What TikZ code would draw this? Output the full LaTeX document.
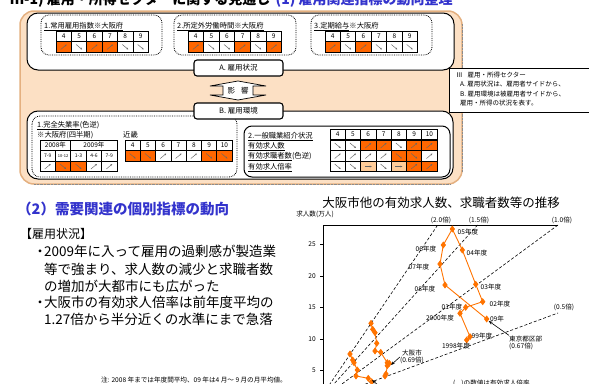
\documentclass[tikz,border=0pt]{standalone}
\usepackage{fontspec}
\setmainfont{Noto Sans CJK JP}
\usetikzlibrary{arrows.meta,shapes.geometric,plotmarks}
\definecolor{peach}{RGB}{252,224,196}
\definecolor{tanline}{RGB}{228,176,128}
\definecolor{orcell}{RGB}{255,102,0}
\definecolor{pccell}{RGB}{255,204,153}
\definecolor{headblue}{RGB}{51,51,204}
\definecolor{plotor}{RGB}{255,115,0}
\tikzset{
  hcell/.style={draw, line width=0.8pt, fill=white, minimum height=10.6pt, inner sep=0pt, outer sep=0pt, font=\fontsize{6.5}{7}\selectfont},
  acell/.style={hcell},
  cellarr/.style={-{Stealth[length=2pt,width=1.8pt]}, line width=0.45pt, black!60},
  dotbox/.style={densely dotted, line width=0.8pt, rounded corners=8pt},
  whitebox/.style={draw, fill=white, line width=1pt, rounded corners=11pt},
  labbox/.style={draw, fill=white, line width=1.1pt, rounded corners=3pt, minimum width=89pt, minimum height=16pt, inner sep=0pt, font=\fontsize{7.5}{8}\selectfont},
  boxtext/.style={anchor=base west, inner sep=0pt, font=\fontsize{7.3}{8}\selectfont},
  ratioline/.style={densely dashed, line width=0.6pt},
  smalllab/.style={font=\fontsize{6.6}{7}\selectfont, inner sep=0pt},
  datline/.style={plotor, line width=0.9pt, mark=diamond*, mark size=2.8pt, mark options={solid, fill=plotor, draw=plotor}},
  ptarr/.style={-{Stealth[length=4pt,width=3pt]}, line width=0.6pt},
}
% small arrow inside a table cell: u = up, d = down, r = flat
\newcommand\cellarrow[3]{%
  \if#3u\draw[cellarr] ({#1-3},{#2+2.5}) -- ({#1+3},{#2-2.5});\fi
  \if#3d\draw[cellarr] ({#1-3},{#2-2.5}) -- ({#1+3},{#2+2.5});\fi
  \if#3r\draw[cellarr] ({#1-3.5},{#2}) -- ({#1+3.5},{#2});\fi}
% header row: x0, y centre, cell width, labels
\newcommand\hdrrow[4]{%
  \foreach \lab [count=\i from 0] in {#4}{
    \node[hcell, minimum width=#3pt] at ({#1+(\i+0.5)*#3},{#2}) {\lab};}}
% arrow row: x0, y centre, cell width, fill/direction
\newcommand\arrrow[4]{%
  \foreach \fc/\dir [count=\i from 0] in {#4}{
    \node[acell, minimum width=#3pt, fill=\fc] at ({#1+(\i+0.5)*#3},{#2}) {};
    \cellarrow{#1+(\i+0.5)*#3}{#2}{\dir}}}
\begin{document}
\begin{tikzpicture}[x=1pt,y=-1pt]
  \useasboundingbox (0,0) rectangle (589,383);
  \clip (0,0) rectangle (589,383);
  % page title (cut at the top)
  \node[anchor=base west, inner sep=0pt, font={\fontsize{14}{15}\selectfont\bfseries}] (ttl) at (10,4) {Ⅲ-1) 雇用・所得セクターに関する見通し};
  \node[anchor=base west, inner sep=0pt, font={\fontsize{14}{15}\selectfont\bfseries}, text=headblue] (sub) at ([xshift=5pt]ttl.base east) {(1) 雇用関連指標の動向整理};

  % sector panel
  \draw[fill=peach, draw=tanline, line width=1.5pt, rounded corners=14pt] (20,11) rectangle (462,184);
  \draw[densely dotted, black!45] (34,184) -- (450,184);
  \draw[densely dotted, black!45] (462,24) -- (462,172);
  \draw[whitebox] (27,13) rectangle (454,70);
  \draw[whitebox] (27,111) rectangle (453,179);

  % A: three indicators
  \draw[dotbox] (41,15) rectangle (162,55);
  \node[boxtext] (a1) at (44,28) {\underline{1.常用雇用指数※大阪府}};
  \hdrrow{56}{36.5}{15.4}{4,5,6,7,8,9}
  \arrrow{56}{47}{15.4}{orcell/u,white/d,orcell/u,orcell/u,white/d,white/d}

  \draw[dotbox] (174,15) rectangle (296,55);
  \node[boxtext] (a2) at (177,28) {\underline{2.所定外労働時間※大阪府}};
  \hdrrow{188}{36.5}{15.6}{4,5,6,7,8,9}
  \arrrow{188}{47}{15.6}{orcell/u,white/d,white/d,orcell/u,white/d,orcell/u}

  \draw[dotbox] (311,15) rectangle (432,55);
  \node[boxtext] (a3) at (314,28) {\underline{3.定期給与}※大阪府};
  \hdrrow{325}{36.5}{15.4}{4,5,6,7,8,9}
  \arrrow{325}{47}{15.4}{orcell/u,white/d,orcell/u,white/d,white/d,white/d}

  % B: unemployment and job offers
  \draw[dotbox] (32,116) rectangle (237,177);
  \node[boxtext] (b1) at (37,127) {\underline{1.完全失業率}(色逆)};
  \node[boxtext] (b1s) at (37,137.5) {※大阪府(四半期)};
  \node[boxtext] (b1k) at (123,137.5) {近畿};
  \node[hcell, minimum width=30.8pt] at (55.4,145.5) {2008年};
  \node[hcell, minimum width=46.2pt] at (93.9,145.5) {2009年};
  \foreach \q [count=\i from 0] in {7-9,{\fontsize{4}{4}\selectfont 10-12},1-3,4-6,7-9}
    \node[hcell, minimum width=15.4pt, font=\fontsize{5}{5}\selectfont] at ({40+(\i+0.5)*15.4},156) {\q};
  \arrrow{40}{166.5}{15.4}{white/u,orcell/d,orcell/d,white/u,white/u}
  \hdrrow{125}{145.5}{15.3}{4,5,6,7,8,9,10}
  \arrrow{125}{156}{15.3}{orcell/d,orcell/d,white/u,white/u,white/u,orcell/d,orcell/d}

  \draw[line width=1pt, rounded corners=8pt] (244,126) rectangle (450,177);
  \node[boxtext] (b2) at (248,138) {\underline{2.一般職業紹介状況}};
  \node[boxtext] (b2a) at (248,148) {\underline{有効求人数}};
  \node[boxtext] (b2b) at (248,158.5) {\underline{有効求職者数}(色逆)};
  \node[boxtext] (b2c) at (248,169) {\underline{有効求人倍率}};
  \hdrrow{330}{134.5}{15.3}{4,5,6,7,8,9,10}
  \arrrow{330}{145.5}{15.3}{white/d,white/d,orcell/u,orcell/u,white/d,orcell/u,orcell/u}
  \arrrow{330}{156}{15.3}{white/u,white/u,white/u,white/u,orcell/d,orcell/d,white/u}
  \arrrow{330}{166.5}{15.3}{white/d,white/d,pccell/r,white/d,pccell/r,orcell/u,orcell/u}

  % A / B labels and the influence arrow
  \node[labbox] (boxA) at (238.5,68) {A. 雇用状況};
  \draw[fill=white, line width=0.7pt] (238,81) -- (266,86) -- (253,86) -- (253,95) -- (266,95)
    -- (238,100) -- (210,95) -- (223,95) -- (223,86) -- (210,86) -- cycle;
  \node[font=\fontsize{7.5}{8}\selectfont, inner sep=0pt] (infl) at (238,90.5) {影\hspace{6pt}響};
  \node[labbox] (boxB) at (238.5,111) {B. 雇用環境};

  % side note
  \draw[fill=white, line width=0.8pt] (449,68) rectangle (591,112);
  \node[anchor=north west, align=left, inner sep=0pt, font=\fontsize{6.5}{9.3}\selectfont] (note) at (456,72)
    {Ⅲ\hspace{5pt}雇用・所得セクター\\\hspace*{4pt}A. 雇用状況は、雇用者サイドから、\\\hspace*{4pt}B. 雇用環境は被雇用者サイドから、\\\hspace*{4pt}雇用・所得の状況を表す。};

  % (2) text column
  \node[anchor=base west, inner sep=0pt, font={\fontsize{14.5}{15}\selectfont\bfseries}, text=headblue] (h2) at (17,214) {（2）需要関連の個別指標の動向};
  \node[anchor=base west, inner sep=0pt, font=\fontsize{12}{13}\selectfont] (emp) at (20,238) {【雇用状況】};
  \foreach \yy/\t in {256.5/{\makebox[8pt]{・}2009年に入って雇用の過剰感が製造業},
                      274/{\hspace*{8pt}等で強まり、求人数の減少と求職者数},
                      291/{\hspace*{8pt}の増加が大都市にも広がった},
                      307.5/{\makebox[8pt]{・}大阪市の有効求人倍率は前年度平均の},
                      324/{\hspace*{8pt}1.27倍から半分近くの水準にまで急落}}
    \node[anchor=base west, inner sep=0pt, font=\fontsize{13.5}{14}\selectfont] at (36,\yy) {\t};
  \node[smalllab] (fn) at (194,380) {注: 2008 年までは年度間平均、09 年は4 月～ 9 月の月平均値。};

  % chart
  \node[font=\fontsize{12.5}{13}\selectfont, inner sep=0pt] (ctitle) at (441,203) {大阪市他の有効求人数、求職者数等の推移};
  \node[smalllab] (ylab) at (315,214) {求人数(万人)};
  \draw[line width=0.7pt] (323,390) -- (323,225) -- (558,225);
  \foreach \v/\yy in {25/244,20/276,15/307,10/339,5/370}{
    \draw[line width=0.6pt] (323,\yy) -- (320,\yy);
    \node[smalllab, anchor=east] at (316,\yy) {\v};}
  \coordinate (org) at (318,401.6);
  \coordinate (r20) at (437.7,225);
  \coordinate (r15) at (477.6,225);
  \coordinate (r10) at (558,225);
  \coordinate (r05) at (558,313);
  \foreach \e in {r20,r15,r10,r05}
    \draw[ratioline] (org) -- (\e);
  \node[smalllab] at (441,220.5) {(2.0倍)};
  \node[smalllab] at (479,220.5) {(1.5倍)};
  \node[smalllab] at (562,220.5) {(1.0倍)};
  \node[smalllab] at (564,307) {(0.5倍)};

  % Tokyo wards
  \draw[datline] plot coordinates {(466.7,340) (470,336.7) (460,313.3) (465.7,307.3) (482.7,301.7)
    (475.7,284.3) (462.3,250) (452.3,229) (443.3,245) (440,264) (445,285) (486.7,319)};
  \coordinate (t09) at (486.7,319);
  \foreach \x/\yy/\t in {468/232/05年度,477/253/04年度,426/249/06年度,419/267/07年度,425/289/08年度,
      491/287/03年度,500/304/02年度,452/307/01年度,440/318/2000年度,482/336/99年度,456/346/1998年度,497/319/09年}
    \node[smalllab] at (\x,\yy) {\t};
  \node[smalllab, align=left, anchor=west, font=\fontsize{6.6}{7}\selectfont] (tokyo) at (509,342.5) {東京都区部\\(0.67倍)};
  \draw[ptarr] (tokyo.north west) -- ([shift={(2,2)}]t09);

  % Osaka and others
  \draw[datline] plot coordinates {(371,323.3) (372.7,329.3) (375,332.7) (376.7,343.3) (375,351)
    (380.7,352.3) (387.3,362.7) (389.3,363.3) (387.3,365.7) (386,374) (385,376)};
  \draw[datline] plot coordinates {(350,354) (352.7,360) (354,362.7) (357.3,370) (356,376) (368.3,378.3) (371.7,381.7)};
  \coordinate (osk) at (391,365);
  \node[smalllab, align=center] (osaka) at (412,357) {大阪市\\(0.69倍)};
  \draw[ptarr] (osaka.west) -- (osk);
  \coordinate (low) at (372,380);
  \coordinate (lowfrom) at (384,390);
  \draw[ptarr] (lowfrom) -- (low);
  \node[smalllab, anchor=west] (cap) at (453,383) {(\hspace{6pt})の数値は有効求人倍率};
\end{tikzpicture}
\end{document}
